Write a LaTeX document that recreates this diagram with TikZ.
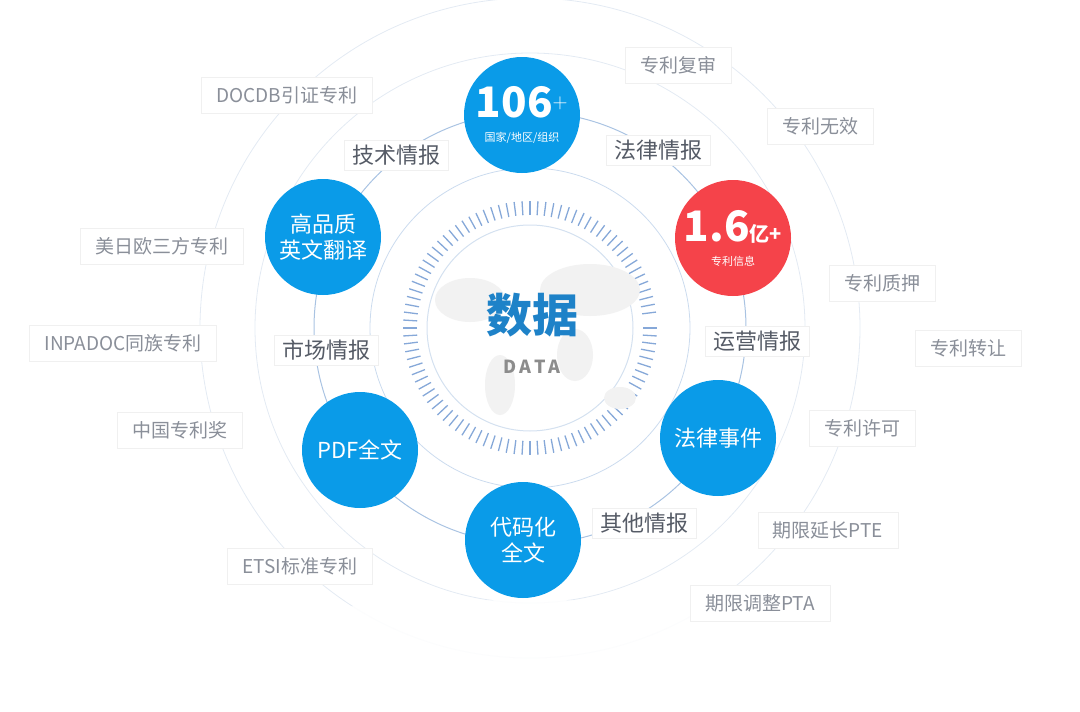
\documentclass[tikz,border=0pt]{standalone}
\usepackage{fontspec}
\setmainfont{Noto Sans CJK SC}
\usetikzlibrary{shadows,calc}
\definecolor{cblue}{HTML}{0A9BE8}
\definecolor{cred}{HTML}{F5434A}
\definecolor{ring}{HTML}{A9C3E2}
\definecolor{faint}{HTML}{E3EAF3}
\definecolor{lbl}{HTML}{8A8F99}
\definecolor{lbl2}{HTML}{555B66}
\definecolor{tick}{HTML}{86A8D8}
\definecolor{datablue}{HTML}{1E82C8}
\tikzset{
  bub/.style={circle,fill=cblue,minimum size=116pt,inner sep=0pt,text=white,align=center,font=\fontsize{22}{26}\selectfont},
  outer/.style={fill=white,draw=black!6,drop shadow={opacity=0.08,shadow xshift=0pt,shadow yshift=-1pt},text=lbl,font=\fontsize{19}{22}\selectfont,inner xsep=15pt,inner ysep=9pt},
  inner/.style={fill=white,draw=black!6,drop shadow={opacity=0.08,shadow xshift=0pt,shadow yshift=-1pt},text=lbl2,font=\fontsize{22}{26}\selectfont,inner xsep=8pt,inner ysep=5pt},
}
\begin{document}
\begin{tikzpicture}[x=1pt,y=-1pt]
\useasboundingbox (0,0) rectangle (1080,712);
\coordinate (c) at (530,328);
% outer faint rings
\draw[faint,line width=0.8pt] (c) circle (330);
\draw[faint,line width=0.8pt] (c) circle (275);
\fill[white,opacity=0.9] (530,640) ellipse (330 and 40);
% main rings
\draw[ring,line width=1pt] (c) circle (216);
\draw[ring!60,line width=0.8pt] (c) circle (160);
% ticks
\foreach \a in {0,3.6,...,356}{
  \draw[tick,line width=1.3pt] ($(c)+(\a:113)$) -- ($(c)+(\a:127)$);
}
\fill[white,draw=ring!50,line width=1pt] (c) circle (103);
% map hint
\fill[black!5] (470,300) ellipse (35 and 22);
\fill[black!5] (500,385) ellipse (15 and 30);
\fill[black!5] (590,290) ellipse (50 and 26);
\fill[black!5] (575,355) ellipse (18 and 26);
\fill[black!5] (620,398) ellipse (16 and 11);
\node (data) at (532,315) {\fontsize{46}{50}\selectfont\bfseries\color{datablue}数据};
\node (dataen) at (532,367) {\fontsize{18}{20}\selectfont\bfseries\color{black!45}D\,A\,T\,A};
% bubbles
\node[bub] (b1) at (522,115) {\fontsize{42}{40}\selectfont\bfseries 106$^{\scriptscriptstyle\mathbf{+}}$\\[-2pt]\fontsize{11}{12}\selectfont 国家/地区/组织};
\node[bub,fill=cred] (b2) at (733,238) {\fontsize{42}{40}\selectfont\bfseries 1.6\fontsize{20}{20}\selectfont 亿+\\[-2pt]\fontsize{11}{12}\selectfont 专利信息};
\node[bub] (b3) at (718,438) {法律事件};
\node[bub] (b4) at (523,540) {代码化\\全文};
\node[bub] (b5) at (360,450) {PDF全文};
\node[bub] (b6) at (323,237) {高品质\\英文翻译};
% inner labels
\node[inner] (i1) at (396,155) {技术情报};
\node[inner] (i2) at (658,150) {法律情报};
\node[inner] (i3) at (757,341) {运营情报};
\node[inner] (i4) at (644,523) {其他情报};
\node[inner] (i5) at (326,350) {市场情报};
% outer labels
\node[outer] (o1) at (678,65) {专利复审};
\node[outer] (o2) at (820,126) {专利无效};
\node[outer] (o3) at (882,283) {专利质押};
\node[outer] (o4) at (968,348) {专利转让};
\node[outer] (o5) at (862,428) {专利许可};
\node[outer] (o6) at (828,530) {期限延长PTE};
\node[outer] (o7) at (760,603) {期限调整PTA};
\node[outer] (o8) at (300,566) {ETSI标准专利};
\node[outer] (o9) at (180,430) {中国专利奖};
\node[outer] (o10) at (123,343) {INPADOC同族专利};
\node[outer] (o11) at (162,246) {美日欧三方专利};
\node[outer] (o12) at (287,95) {DOCDB引证专利};
\end{tikzpicture}
\end{document}
